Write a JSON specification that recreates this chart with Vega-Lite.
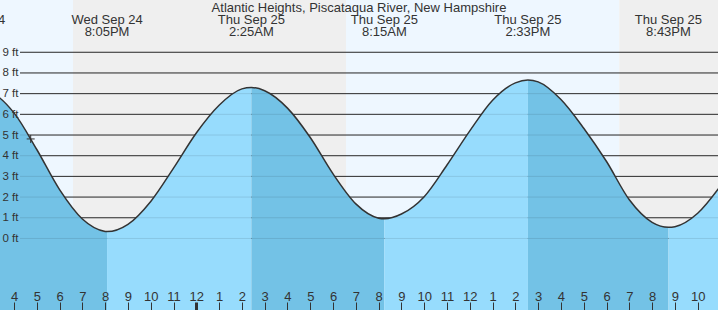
{
  "$schema": "https://vega.github.io/schema/vega-lite/v6.json",
  "width": 718,
  "height": 310,
  "autosize": {"type": "none"},
  "padding": 0,
  "background": "#ffffff",
  "config": {
    "view": {"stroke": null},
    "font": "Liberation Sans",
    "axisX": {
      "orient": "bottom",
      "offset": -8,
      "domain": false,
      "grid": false,
      "ticks": true,
      "tickSize": 8,
      "tickColor": "#333333",
      "labelFontSize": 13,
      "labelColor": "#333333",
      "labelBaseline": "alphabetic",
      "labelPadding": -10,
      "labelFlush": false,
      "labelBound": false,
      "labelOverlap": false
    },
    "axisY": {
      "orient": "left",
      "offset": -20,
      "domain": false,
      "ticks": false,
      "grid": false,
      "labelPadding": 2,
      "labelFontSize": 11.5,
      "labelColor": "#333333",
      "labelOverlap": false,
      "labelBound": false
    }
  },
  "title": {
    "text": "Atlantic Heights, Piscataqua River, New Hampshire",
    "fontSize": 13,
    "fontWeight": "normal",
    "color": "#333333",
    "anchor": "middle",
    "frame": "group",
    "baseline": "top",
    "offset": -15
  },
  "resolve": {"scale": {"color": "independent"}},
  "datasets": {
    "light": [
      {"start": 13.0, "end": 18.589, "period": "day"},
      {"start": 18.589, "end": 30.568, "period": "night"},
      {"start": 30.568, "end": 42.56, "period": "day"},
      {"start": 42.56, "end": 49.0, "period": "night"}
    ],
    "levels": [
      {"ft": 0}, {"ft": 1}, {"ft": 2}, {"ft": 3}, {"ft": 4},
      {"ft": 5}, {"ft": 6}, {"ft": 7}, {"ft": 8}, {"ft": 9}
    ],
    "tide": [
      {"t": 14.05, "ft": 7.25, "seg": "A", "phase": "fall", "edge": 0},
      {"t": 15, "ft": 7.05, "seg": "A", "phase": "fall", "edge": 0},
      {"t": 16, "ft": 6.07, "seg": "A", "phase": "fall", "edge": 0},
      {"t": 17, "ft": 4.3, "seg": "A", "phase": "fall", "edge": 0},
      {"t": 18, "ft": 2.36, "seg": "A", "phase": "fall", "edge": 0},
      {"t": 19, "ft": 0.94, "seg": "A", "phase": "fall", "edge": 0},
      {"t": 20, "ft": 0.34, "seg": "A", "phase": "fall", "edge": 0},
      {"t": 20.083, "ft": 0.33, "seg": "A", "phase": "fall", "edge": 0},
      {"t": 20.083, "ft": 0.33, "seg": "B", "phase": "rise", "edge": 1},
      {"t": 21, "ft": 0.68, "seg": "B", "phase": "rise", "edge": 0},
      {"t": 22, "ft": 1.79, "seg": "B", "phase": "rise", "edge": 0},
      {"t": 23, "ft": 3.4, "seg": "B", "phase": "rise", "edge": 0},
      {"t": 24, "ft": 5.1, "seg": "B", "phase": "rise", "edge": 0},
      {"t": 25, "ft": 6.44, "seg": "B", "phase": "rise", "edge": 0},
      {"t": 26, "ft": 7.23, "seg": "B", "phase": "rise", "edge": 0},
      {"t": 26.417, "ft": 7.3, "seg": "B", "phase": "rise", "edge": 0},
      {"t": 26.417, "ft": 7.3, "seg": "C", "phase": "fall", "edge": 1},
      {"t": 27, "ft": 7.14, "seg": "C", "phase": "fall", "edge": 0},
      {"t": 28, "ft": 6.3, "seg": "C", "phase": "fall", "edge": 0},
      {"t": 29, "ft": 4.88, "seg": "C", "phase": "fall", "edge": 0},
      {"t": 30, "ft": 3.12, "seg": "C", "phase": "fall", "edge": 0},
      {"t": 31, "ft": 1.67, "seg": "C", "phase": "fall", "edge": 0},
      {"t": 32, "ft": 0.98, "seg": "C", "phase": "fall", "edge": 0},
      {"t": 32.25, "ft": 0.95, "seg": "C", "phase": "fall", "edge": 0},
      {"t": 32.25, "ft": 0.95, "seg": "D", "phase": "rise", "edge": 1},
      {"t": 33, "ft": 1.18, "seg": "D", "phase": "rise", "edge": 0},
      {"t": 34, "ft": 2.02, "seg": "D", "phase": "rise", "edge": 0},
      {"t": 35, "ft": 3.55, "seg": "D", "phase": "rise", "edge": 0},
      {"t": 36, "ft": 5.2, "seg": "D", "phase": "rise", "edge": 0},
      {"t": 37, "ft": 6.68, "seg": "D", "phase": "rise", "edge": 0},
      {"t": 38, "ft": 7.52, "seg": "D", "phase": "rise", "edge": 0},
      {"t": 38.55, "ft": 7.66, "seg": "D", "phase": "rise", "edge": 0},
      {"t": 38.55, "ft": 7.66, "seg": "E", "phase": "fall", "edge": 1},
      {"t": 39, "ft": 7.57, "seg": "E", "phase": "fall", "edge": 0},
      {"t": 40, "ft": 6.72, "seg": "E", "phase": "fall", "edge": 0},
      {"t": 41, "ft": 5.33, "seg": "E", "phase": "fall", "edge": 0},
      {"t": 42, "ft": 3.72, "seg": "E", "phase": "fall", "edge": 0},
      {"t": 43, "ft": 1.87, "seg": "E", "phase": "fall", "edge": 0},
      {"t": 44, "ft": 0.78, "seg": "E", "phase": "fall", "edge": 0},
      {"t": 44.717, "ft": 0.54, "seg": "E", "phase": "fall", "edge": 0},
      {"t": 44.717, "ft": 0.54, "seg": "F", "phase": "rise", "edge": 1},
      {"t": 45, "ft": 0.57, "seg": "F", "phase": "rise", "edge": 0},
      {"t": 46, "ft": 1.22, "seg": "F", "phase": "rise", "edge": 0},
      {"t": 47, "ft": 2.54, "seg": "F", "phase": "rise", "edge": 0},
      {"t": 48, "ft": 4.2, "seg": "F", "phase": "rise", "edge": 0}
    ],
    "extremes": [
      {"t": 14.05, "label": "Wed Sep 24\n2:03PM"},
      {"t": 20.083, "label": "Wed Sep 24\n8:05PM"},
      {"t": 26.417, "label": "Thu Sep 25\n2:25AM"},
      {"t": 32.25, "label": "Thu Sep 25\n8:15AM"},
      {"t": 38.55, "label": "Thu Sep 25\n2:33PM"},
      {"t": 44.717, "label": "Thu Sep 25\n8:43PM"}
    ],
    "now": [
      {"t": 16.733, "ft": 4.81}
    ]
  },
  "layer": [
    {
      "data": {"name": "light"},
      "mark": {"type": "rect", "clip": true},
      "encoding": {
        "x": {
          "field": "start", "type": "quantitative",
          "scale": {"domain": [15.386, 46.891], "nice": false, "zero": false},
          "axis": {"title": null, "zindex": 2, "tickCount": 32, "labelExpr": "datum.value % 12 == 0 ? '12' : '' + (datum.value % 12)", "tickWidth": {"condition": {"test": "datum.value == 24", "value": 3}, "value": 1}}
        },
        "x2": {"field": "end"},
        "color": {
          "field": "period", "type": "nominal",
          "scale": {"domain": ["day", "night"], "range": ["#eef7ff", "#efefef"]},
          "legend": null
        }
      }
    },
    {
      "data": {"name": "levels"},
      "mark": {"type": "rule", "color": "#333333", "strokeWidth": 1},
      "encoding": {
        "x": {"datum": 16.264, "type": "quantitative",
          "axis": {"title": null, "zindex": 2, "tickCount": 32, "labelExpr": "datum.value % 12 == 0 ? '12' : '' + (datum.value % 12)", "tickWidth": {"condition": {"test": "datum.value == 24", "value": 3}, "value": 1}}},
        "x2": {"value": "width"},
        "y": {
          "field": "ft", "type": "quantitative",
          "scale": {"domain": [-3.459, 11.527], "nice": false, "zero": false},
          "axis": {"title": null, "zindex": 2, "values": [0, 1, 2, 3, 4, 5, 6, 7, 8, 9], "labelExpr": "datum.value + ' ft'"}
        }
      }
    },
    {
      "data": {"name": "tide"},
      "mark": {"type": "area", "interpolate": "monotone", "clip": true},
      "encoding": {
        "x": {"field": "t", "type": "quantitative",
          "axis": {"title": null, "zindex": 2, "tickCount": 32, "labelExpr": "datum.value % 12 == 0 ? '12' : '' + (datum.value % 12)", "tickWidth": {"condition": {"test": "datum.value == 24", "value": 3}, "value": 1}}},
        "y": {"field": "ft", "type": "quantitative", "stack": null,
          "axis": {"title": null, "zindex": 2, "values": [0, 1, 2, 3, 4, 5, 6, 7, 8, 9], "labelExpr": "datum.value + ' ft'"}},
        "y2": {"value": "height"},
        "color": {
          "field": "phase", "type": "nominal",
          "scale": {"domain": ["fall", "rise"], "range": ["#73c2e6", "#97dcfd"]},
          "legend": null
        },
        "detail": {"field": "seg"}
      }
    },
    {
      "data": {"name": "levels"},
      "mark": {"type": "rule", "color": "#000000", "opacity": 0.1, "strokeWidth": 1},
      "encoding": {
        "x": {"datum": 16.264, "type": "quantitative",
          "axis": {"title": null, "zindex": 2, "tickCount": 32, "labelExpr": "datum.value % 12 == 0 ? '12' : '' + (datum.value % 12)", "tickWidth": {"condition": {"test": "datum.value == 24", "value": 3}, "value": 1}}},
        "x2": {"value": "width"},
        "y": {"field": "ft", "type": "quantitative",
          "axis": {"title": null, "zindex": 2, "values": [0, 1, 2, 3, 4, 5, 6, 7, 8, 9], "labelExpr": "datum.value + ' ft'"}}
      }
    },
    {
      "data": {"name": "tide"},
      "transform": [{"filter": "datum.edge != 1"}],
      "mark": {"type": "line", "interpolate": "monotone", "clip": true, "color": "#333333", "strokeWidth": 1.5},
      "encoding": {
        "x": {"field": "t", "type": "quantitative",
          "axis": {"title": null, "zindex": 2, "tickCount": 32, "labelExpr": "datum.value % 12 == 0 ? '12' : '' + (datum.value % 12)", "tickWidth": {"condition": {"test": "datum.value == 24", "value": 3}, "value": 1}}},
        "y": {"field": "ft", "type": "quantitative",
          "axis": {"title": null, "zindex": 2, "values": [0, 1, 2, 3, 4, 5, 6, 7, 8, 9], "labelExpr": "datum.value + ' ft'"}},
        "order": {"field": "t"}
      }
    },
    {
      "data": {"name": "extremes"},
      "mark": {"type": "text", "fontSize": 13, "color": "#333333", "lineBreak": "\n", "lineHeight": 12.5, "baseline": "alphabetic", "align": "center"},
      "encoding": {
        "x": {"field": "t", "type": "quantitative",
          "axis": {"title": null, "zindex": 2, "tickCount": 32, "labelExpr": "datum.value % 12 == 0 ? '12' : '' + (datum.value % 12)", "tickWidth": {"condition": {"test": "datum.value == 24", "value": 3}, "value": 1}}},
        "y": {"datum": 10.37, "type": "quantitative",
          "axis": {"title": null, "zindex": 2, "values": [0, 1, 2, 3, 4, 5, 6, 7, 8, 9], "labelExpr": "datum.value + ' ft'"}},
        "text": {"field": "label"}
      }
    },
    {
      "data": {"name": "now"},
      "mark": {"type": "point", "shape": "M-1,0L1,0M0,-1L0,1", "filled": false, "stroke": "#333333", "strokeWidth": 1, "size": 64, "opacity": 1},
      "encoding": {
        "x": {"field": "t", "type": "quantitative",
          "axis": {"title": null, "zindex": 2, "tickCount": 32, "labelExpr": "datum.value % 12 == 0 ? '12' : '' + (datum.value % 12)", "tickWidth": {"condition": {"test": "datum.value == 24", "value": 3}, "value": 1}}},
        "y": {"field": "ft", "type": "quantitative",
          "axis": {"title": null, "zindex": 2, "values": [0, 1, 2, 3, 4, 5, 6, 7, 8, 9], "labelExpr": "datum.value + ' ft'"}}
      }
    }
  ]
}
